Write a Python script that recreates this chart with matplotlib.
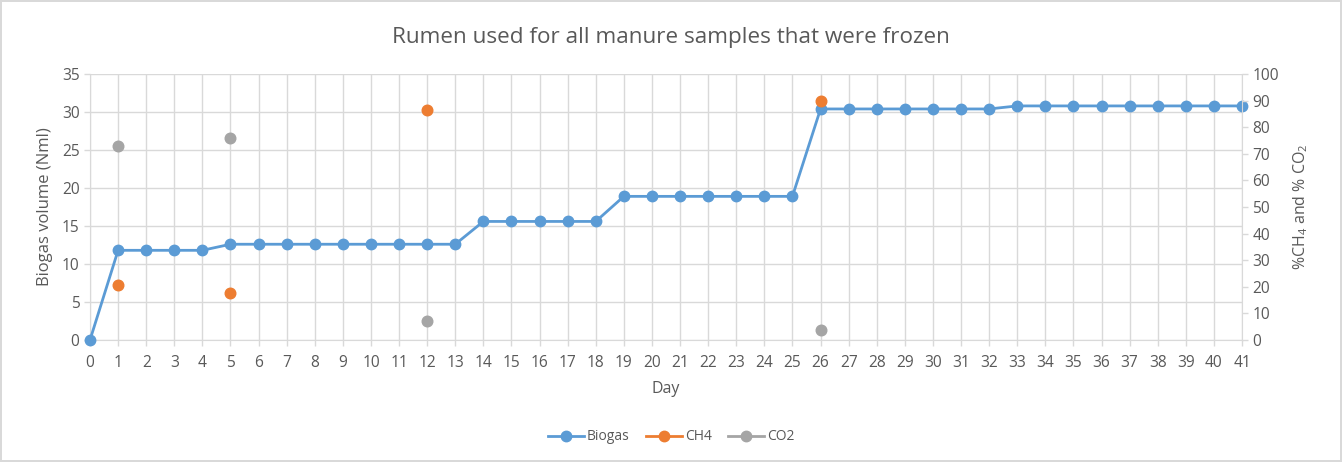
import matplotlib
matplotlib.use("Agg")
import matplotlib.pyplot as plt
from matplotlib.lines import Line2D
import numpy as np

days = list(range(0, 42))
biogas = [0.0] + [11.8]*4 + [12.6]*9 + [15.6]*5 + [18.9]*7 + [30.4]*7 + [30.8]*9
gas_days = [1, 5, 12, 26]
ch4 = [20.8, 17.6, 86.5, 89.8]
co2 = [72.9, 75.8, 7.0, 3.8]

title = "Rumen used for all manure samples that were frozen"
xlabel = "Day"
ylabel_left = "Biogas volume (Nml)"
ylabel_right = "%CH$_4$ and % CO$_2$"

FONT = 'Open Sans'
plt.rcParams['font.family'] = [FONT, 'DejaVu Sans']
plt.rcParams['mathtext.fontset'] = 'custom'
plt.rcParams['mathtext.rm'] = FONT
plt.rcParams['mathtext.it'] = FONT

TXT = '#595959'
GRID = '#D9D9D9'
BLUE = '#5B9BD5'
ORANGE = '#ED7D31'
GRAY = '#A5A5A5'

fig = plt.figure(figsize=(13.42, 4.62), dpi=100)
fig.patch.set_facecolor('white')
fig.patch.set_edgecolor('#D9D9D9')
fig.patch.set_linewidth(1.5)

ax = fig.add_axes([90/1342, 1-340/462, (1242-90)/1342, (340-74)/462])
ax2 = ax.twinx()

ax.plot(days, biogas, color=BLUE, lw=2.0, marker='o', ms=7.5, zorder=3, clip_on=False)
ax2.scatter(gas_days, ch4, color=ORANGE, s=58, zorder=3, clip_on=False)
ax2.scatter(gas_days, co2, color=GRAY, s=58, zorder=3, clip_on=False)

ax.set_xlim(0, 41)
ax.set_ylim(0, 35)
ax2.set_ylim(0, 100)
ax.set_xticks(days)
ax.set_yticks(np.arange(0, 36, 5))
ax2.set_yticks(np.arange(0, 101, 10))

ax.grid(True, color=GRID, lw=1)
ax.set_axisbelow(True)
for a in (ax, ax2):
    for s in a.spines.values():
        s.set_visible(False)
    a.tick_params(colors=TXT, labelsize=11.2, length=4, width=1)
    a.tick_params(axis='both', color=GRID)
ax.spines['bottom'].set_visible(True)
ax.spines['bottom'].set_color(GRID)
ax.spines['left'].set_visible(True)
ax.spines['left'].set_color(GRID)
ax2.spines['right'].set_visible(True)
ax2.spines['right'].set_color(GRID)
ax.tick_params(axis='x', pad=7)

ax.set_xlabel(xlabel, color=TXT, fontsize=11.5, labelpad=7)
ax.set_ylabel(ylabel_left, color=TXT, fontsize=12, labelpad=6)
ax2.set_ylabel(ylabel_right, color=TXT, fontsize=11.5, labelpad=9)

fig.text(0.5, 1-37/462, title, ha='center', va='center', color=TXT, fontsize=16.2)

handles = [Line2D([], [], color=c, lw=2, marker='o', ms=7.5) for c in (BLUE, ORANGE, GRAY)]
fig.legend(handles, ['Biogas', 'CH4', 'CO2'], loc='center', bbox_to_anchor=(0.5, 1-437/462),
           ncol=3, frameon=False, fontsize=10, labelcolor=TXT, handlelength=2.6,
           columnspacing=1.2, handletextpad=0.2)

fig.savefig('out.png', dpi=100)
